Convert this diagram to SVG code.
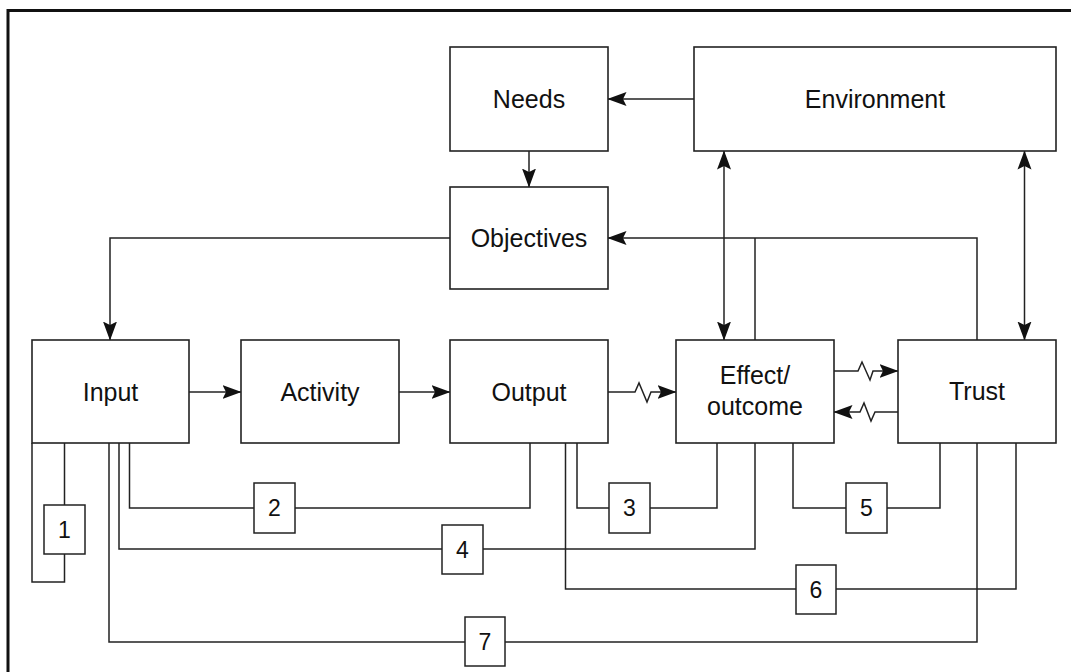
<svg xmlns="http://www.w3.org/2000/svg" width="1071" height="672" viewBox="0 0 1071 672">
<style>
.box{fill:#fff;stroke:#222;stroke-width:1.6}
.num{fill:#fff;stroke:#222;stroke-width:1.5}
.lbl{font-family:"Liberation Sans",Arial,sans-serif;font-size:25px;fill:#111;text-anchor:middle}
.n{font-family:"Liberation Sans",Arial,sans-serif;font-size:23px;fill:#111;text-anchor:middle}
.c{fill:none;stroke:#222;stroke-width:1.5}
.a{marker-end:url(#ah)}
.d{marker-start:url(#ah);marker-end:url(#ah)}
</style>
<defs>
<marker id="ah" markerUnits="userSpaceOnUse" markerWidth="19" markerHeight="15" viewBox="0 0 19 15" refX="18.5" refY="7.5" orient="auto-start-reverse">
<path d="M0,0.5 L19,7.5 L0,14.5 L3.5,7.5 z" fill="#111"/>
</marker>
</defs>
<rect width="1071" height="672" fill="#fff"/>
<g id="frame">
<path d="M8,672 V10.5 H1071" fill="none" stroke="#111" stroke-width="3"/>
</g>
<g id="connectors">
<path class="c a" d="M694,99 H608"/>
<path class="c a" d="M529,151 V187"/>
<path class="c a" d="M450,238 H110 V340"/>
<path class="c a" d="M189,392 H241"/>
<path class="c a" d="M399,392 H450"/>
<path class="c a" d="M608,392 H635 L639,383 L647,402 L651,392 H676"/>
<path class="c a" d="M834,371 H858 L862,362 L870,380 L873,371 H898"/>
<path class="c a" d="M898,412 H875 L871,421 L864,403 L860,412 H834"/>
<path class="c d" d="M724,151 V340"/>
<path class="c d" d="M1024.5,151 V340"/>
<path class="c a" d="M977,340 V238 H608"/>
<path class="c" d="M755,238 V340"/>
<path class="c" d="M32,443 V582 H64.5 V443"/>
<path class="c" d="M129.5,443 V508 H530 V443"/>
<path class="c" d="M577,443 V508 H717 V443"/>
<path class="c" d="M119,443 V549 H755 V443"/>
<path class="c" d="M793,443 V508 H940 V443"/>
<path class="c" d="M565.5,443 V589 H1016 V443"/>
<path class="c" d="M109,443 V642 H977 V443"/>
</g>
<g id="needs"><rect class="box" x="450" y="47" width="158" height="104"/><text class="lbl" x="529" y="108">Needs</text></g>
<g id="environment"><rect class="box" x="694" y="47" width="362" height="104"/><text class="lbl" x="875" y="108">Environment</text></g>
<g id="objectives"><rect class="box" x="450" y="187" width="158" height="102"/><text class="lbl" x="529" y="247">Objectives</text></g>
<g id="input"><rect class="box" x="32" y="340" width="157" height="103"/><text class="lbl" x="110.5" y="401">Input</text></g>
<g id="activity"><rect class="box" x="241" y="340" width="158" height="103"/><text class="lbl" x="320" y="401">Activity</text></g>
<g id="output"><rect class="box" x="450" y="340" width="158" height="103"/><text class="lbl" x="529" y="401">Output</text></g>
<g id="effect"><rect class="box" x="676" y="340" width="158" height="103"/><text class="lbl" x="755" y="384">Effect/</text><text class="lbl" x="755" y="415">outcome</text></g>
<g id="trust"><rect class="box" x="898" y="340" width="158" height="103"/><text class="lbl" x="977" y="400">Trust</text></g>
<g id="n1"><rect class="num" x="44" y="505" width="41" height="49"/><text class="n" x="64.5" y="538">1</text></g>
<g id="n2"><rect class="num" x="254" y="483" width="41" height="50"/><text class="n" x="274.5" y="516">2</text></g>
<g id="n3"><rect class="num" x="609" y="483" width="41" height="50"/><text class="n" x="629.5" y="516">3</text></g>
<g id="n4"><rect class="num" x="442" y="525" width="41" height="49"/><text class="n" x="462.5" y="558">4</text></g>
<g id="n5"><rect class="num" x="846" y="483" width="41" height="50"/><text class="n" x="866.5" y="516">5</text></g>
<g id="n6"><rect class="num" x="796" y="565" width="40" height="49"/><text class="n" x="816" y="598">6</text></g>
<g id="n7"><rect class="num" x="465" y="617" width="40" height="49"/><text class="n" x="485" y="650">7</text></g>
</svg>
